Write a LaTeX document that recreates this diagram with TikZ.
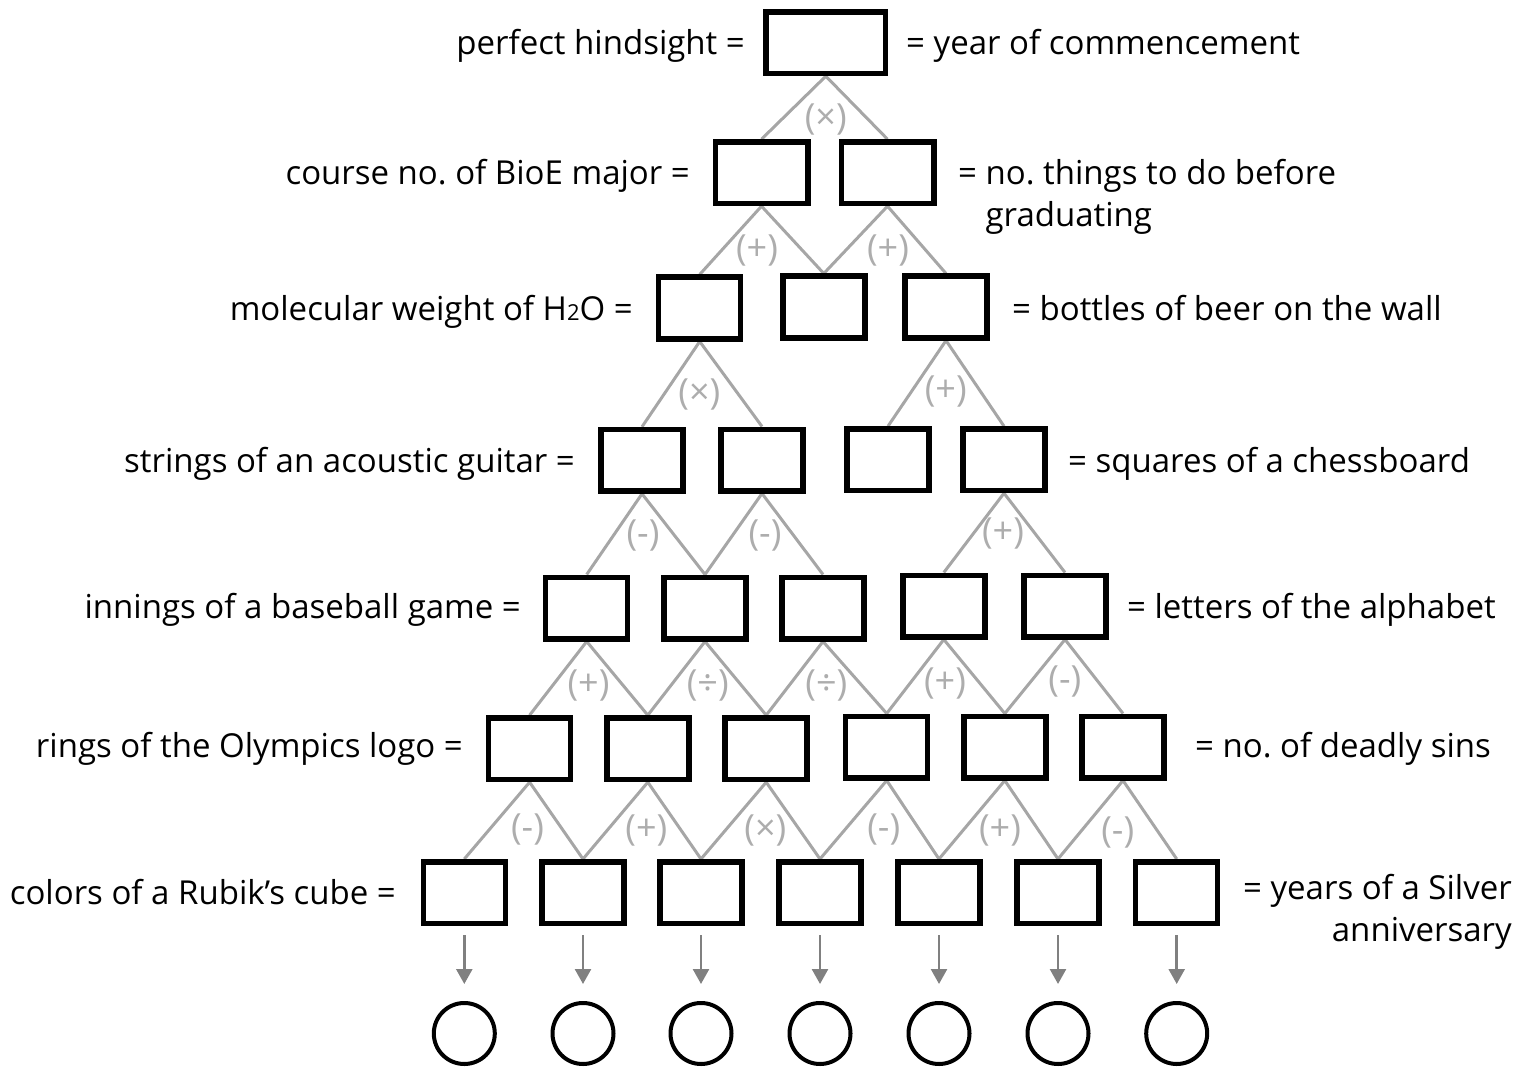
\documentclass[tikz,border=0pt]{standalone}
\usepackage{fontspec}
\setmainfont{Open Sans}
\usetikzlibrary{arrows.meta,backgrounds}
\definecolor{linegray}{HTML}{A6A6A6}
\definecolor{opgray}{HTML}{ADADAD}
\definecolor{arrgray}{HTML}{808080}
\frenchspacing
\tikzset{
  box/.style={draw=black, line width=5.5pt, fill=white, minimum width=82pt, minimum height=61.5pt, inner sep=0pt},
  topbox/.style={box, minimum width=119.5pt},
  midbox/.style={box, minimum width=92.5pt},
  txt/.style={font=\fontsize{33}{42}\selectfont, inner sep=0pt},
  op/.style={font=\fontsize{36}{40}\selectfont, text=opgray, inner sep=0pt},
  tree/.style={draw=linegray, line width=3pt},
  arr/.style={draw=arrgray, line width=2.5pt, -{Triangle[width=16pt,length=15pt]}, shorten <=9pt, shorten >=17pt},
  circ/.style={draw=black, line width=4pt, circle, minimum size=61pt, inner sep=0pt, fill=white},
}
\begin{document}
\begin{tikzpicture}[x=1pt,y=-1pt]
\useasboundingbox (0,0) rectangle (1515,1067);
% boxes
\node[topbox] (a1) at (825.8,42.7) {};
\node[midbox] (b1) at (761.5,172.7) {};
\node[midbox] (b2) at (887.5,172.7) {};
\node[box] (c1) at (699.7,308) {};
\node[box] (c2) at (823.8,307) {};
\node[box] (c3) at (946,307) {};
\node[box] (d1) at (642,460.3) {};
\node[box] (d2) at (762,460) {};
\node[box] (d3) at (888,459.7) {};
\node[box] (d4) at (1004,459.7) {};
\node[box] (e1) at (586.7,608) {};
\node[box] (e2) at (705,608) {};
\node[box] (e3) at (823,608) {};
\node[box] (e4) at (943.8,606) {};
\node[box] (e5) at (1065,606) {};
\node[box] (f1) at (529.6,748.7) {};
\node[box] (f2) at (647.8,748.7) {};
\node[box] (f3) at (766.2,748.7) {};
\node[box] (f4) at (886.7,747) {};
\node[box] (f5) at (1004.8,747) {};
\node[box] (f6) at (1123,747) {};
\node[box] (g1) at (464.3,892.5) {};
\node[box] (g2) at (583,892.5) {};
\node[box] (g3) at (701,892.5) {};
\node[box] (g4) at (820,892.5) {};
\node[box] (g5) at (939,892.5) {};
\node[box] (g6) at (1058,892.5) {};
\node[box] (g7) at (1176.7,892.5) {};
% circles
\node[circ] (o1) at (464.3,1033.5) {};
\node[circ] (o2) at (583,1033.5) {};
\node[circ] (o3) at (701,1033.5) {};
\node[circ] (o4) at (820,1033.5) {};
\node[circ] (o5) at (939,1033.5) {};
\node[circ] (o6) at (1058,1033.5) {};
\node[circ] (o7) at (1176.7,1033.5) {};
% tree connectors
\begin{pgfonlayer}{background}
\draw[tree] (b1.north) -- (a1.south) -- (b2.north);
\draw[tree] (c1.north) -- (b1.south) -- (c2.north);
\draw[tree] (c2.north) -- (b2.south) -- (c3.north);
\draw[tree] (d1.north) -- (c1.south) -- (d2.north);
\draw[tree] (d3.north) -- (c3.south) -- (d4.north);
\draw[tree] (e1.north) -- (d1.south) -- (e2.north);
\draw[tree] (e2.north) -- (d2.south) -- (e3.north);
\draw[tree] (e4.north) -- (d4.south) -- (e5.north);
\draw[tree] (f1.north) -- (e1.south) -- (f2.north);
\draw[tree] (f2.north) -- (e2.south) -- (f3.north);
\draw[tree] (f3.north) -- (e3.south) -- (f4.north);
\draw[tree] (f4.north) -- (e4.south) -- (f5.north);
\draw[tree] (f5.north) -- (e5.south) -- (f6.north);
\draw[tree] (g1.north) -- (f1.south) -- (g2.north);
\draw[tree] (g2.north) -- (f2.south) -- (g3.north);
\draw[tree] (g3.north) -- (f3.south) -- (g4.north);
\draw[tree] (g4.north) -- (f4.south) -- (g5.north);
\draw[tree] (g5.north) -- (f5.south) -- (g6.north);
\draw[tree] (g6.north) -- (f6.south) -- (g7.north);
\end{pgfonlayer}
% arrows
\draw[arr] (g1.south) -- (o1.north);
\draw[arr] (g2.south) -- (o2.north);
\draw[arr] (g3.south) -- (o3.north);
\draw[arr] (g4.south) -- (o4.north);
\draw[arr] (g5.south) -- (o5.north);
\draw[arr] (g6.south) -- (o6.north);
\draw[arr] (g7.south) -- (o7.north);
% operation labels
\node[op] (p1) at (825.7,120) {(×)};
\node[op] (p2) at (757,250) {(+)};
\node[op] (p3) at (888,250) {(+)};
\node[op] (p4) at (699.3,394) {(×)};
\node[op] (p5) at (945.7,391) {(+)};
\node[op] (p6) at (643,535) {(-)};
\node[op] (p7) at (765,535) {(-)};
\node[op] (p8) at (1003,533) {(+)};
\node[op] (p9) at (588.5,685) {(+)};
\node[op] (p10) at (707.7,685) {(÷)};
\node[op] (p11) at (826.4,685) {(÷)};
\node[op] (p12) at (945,683) {(+)};
\node[op] (p13) at (1064.8,681) {(-)};
\node[op] (p14) at (527.5,829) {(-)};
\node[op] (p15) at (646.4,830) {(+)};
\node[op] (p16) at (765.3,830) {(×)};
\node[op] (p17) at (883.7,829) {(-)};
\node[op] (p18) at (1000,830) {(+)};
\node[op] (p19) at (1117.7,832) {(-)};
% left texts
\node[txt, anchor=base east] (l1) at (745,55) {perfect hindsight =};
\node[txt, anchor=base east] (l2) at (690,185) {course no. of BioE major =};
\node[txt, anchor=base east] (l3) at (633,320) {molecular weight of H{\fontsize{22}{22}\selectfont 2}O =};
\node[txt, anchor=base east] (l4) at (575,472) {strings of an acoustic guitar =};
\node[txt, anchor=base east] (l5) at (521,618) {innings of a baseball game =};
\node[txt, anchor=base east] (l6) at (463,757) {rings of the Olympics logo =};
\node[txt, anchor=base east] (l7) at (396,904) {colors of a Rubik’s cube =};
% right texts
\node[txt, anchor=base west] (r1) at (906,55) {= year of commencement};
\node[txt, anchor=base west] (r2) at (958,185) {\begin{tabular}[t]{@{}l@{}}= no. things to do before\\\hphantom{= }graduating\end{tabular}};
\node[txt, anchor=base west] (r3) at (1012,320) {= bottles of beer on the wall};
\node[txt, anchor=base west] (r4) at (1068,472) {= squares of a chessboard};
\node[txt, anchor=base west] (r5) at (1127,618) {= letters of the alphabet};
\node[txt, anchor=base west] (r6) at (1195,757) {= no. of deadly sins};
\node[txt, anchor=base east] (r7) at (1512,899) {\begin{tabular}[t]{@{}r@{}}= years of a Silver\\anniversary\end{tabular}};
\end{tikzpicture}
\end{document}
